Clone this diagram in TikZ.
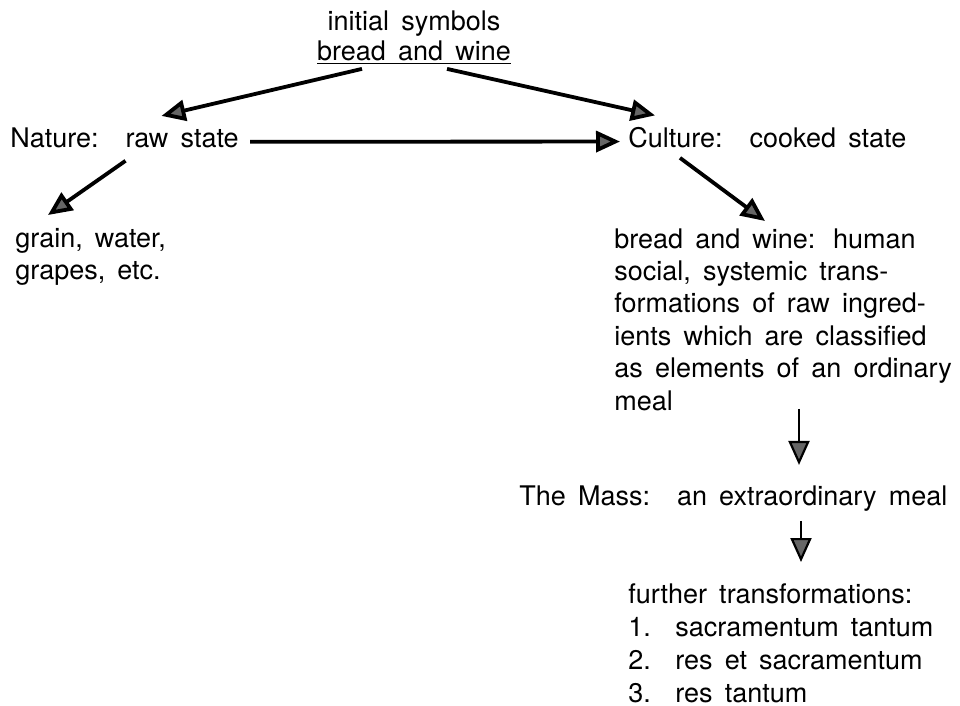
\documentclass[tikz,border=0pt]{standalone}
\usepackage{fontspec}
\setmainfont{TeX Gyre Heros}
\usepackage{tikz}
\usetikzlibrary{arrows.meta,positioning}
\newcommand\widesp{\spaceskip=0.45em plus 0.1em\relax\xspaceskip=1em\relax}
\newcommand\blocksp{\spaceskip=0.45em plus 0.1em\relax\xspaceskip=0.65em\relax}

\begin{document}
\begin{tikzpicture}[x=0.5pt,y=-0.5pt,
    >={Triangle[length=12pt,width=10.5pt,fill=black!60]},
    lbl/.style={inner sep=0pt,font=\fontsize{13.5}{16.2}\selectfont\widesp},
    blk/.style={lbl,align=left,anchor=north west},
    arr/.style={->,line width=1.9pt},
    varr/.style={->,line width=1.1pt}]
    \useasboundingbox (0,0) rectangle (960,706);

    \node (init) [lbl,align=center,anchor=north,font=\fontsize{13.5}{15}\selectfont\widesp] at (414,10) {initial\ symbols\\\underline{bread and wine}};
    \node (nature) [lbl,anchor=base west] at (10,148) {Nature: raw state};
    \node (culture) [lbl,anchor=base west] at (628,148) {Culture: cooked state};

    \node (grain) [blk] at (15,228) {grain, water,\\grapes, etc.};
    \node (bread) [blk,font=\fontsize{13.5}{16.2}\selectfont\blocksp] at (614,228) {bread and wine: human\\social, systemic trans-\\formations of raw ingred-\\ients which are classified\\as elements of an ordinary\\meal};

    \node (mass) [lbl,anchor=base west] at (519,505) {The Mass: an extraordinary meal};
    \node (further) [blk,font=\fontsize{13.5}{16.5}\selectfont\widesp] at (628,583) {further\ transformations:\\
        \makebox[23.5pt][l]{1.}sacramentum tantum\\
        \makebox[23.5pt][l]{2.}res et sacramentum\\
        \makebox[23.5pt][l]{3.}res tantum};

    \draw[arr] ([xshift=-26pt,yshift=-2pt]init.south) -- ([xshift=18.5pt,yshift=6pt]nature.north);
    \draw[arr] ([xshift=16.5pt,yshift=-2pt]init.south) -- ([xshift=13.5pt,yshift=6pt]culture.north west);
    \draw[arr] ([xshift=5.5pt,yshift=-1.7pt]nature.east) -- ([xshift=-4pt,yshift=-1.7pt]culture.west);
    \draw[arr] ([xshift=0.5pt,yshift=-6pt]nature.south) -- ([xshift=16.5pt,yshift=6.5pt]grain.north west);
    \draw[arr] ([xshift=26pt,yshift=-4.5pt]culture.south west) -- ([xshift=75.5pt,yshift=3.5pt]bread.north west);

    \draw[varr] ([xshift=92.5pt,yshift=1pt]bread.south west) -- ([xshift=140pt,yshift=10pt]mass.north west);
    \draw[varr] ([xshift=141pt,yshift=-4.75pt]mass.south west) -- ([xshift=86.5pt,yshift=10.5pt]further.north west);
\end{tikzpicture}
\end{document}
